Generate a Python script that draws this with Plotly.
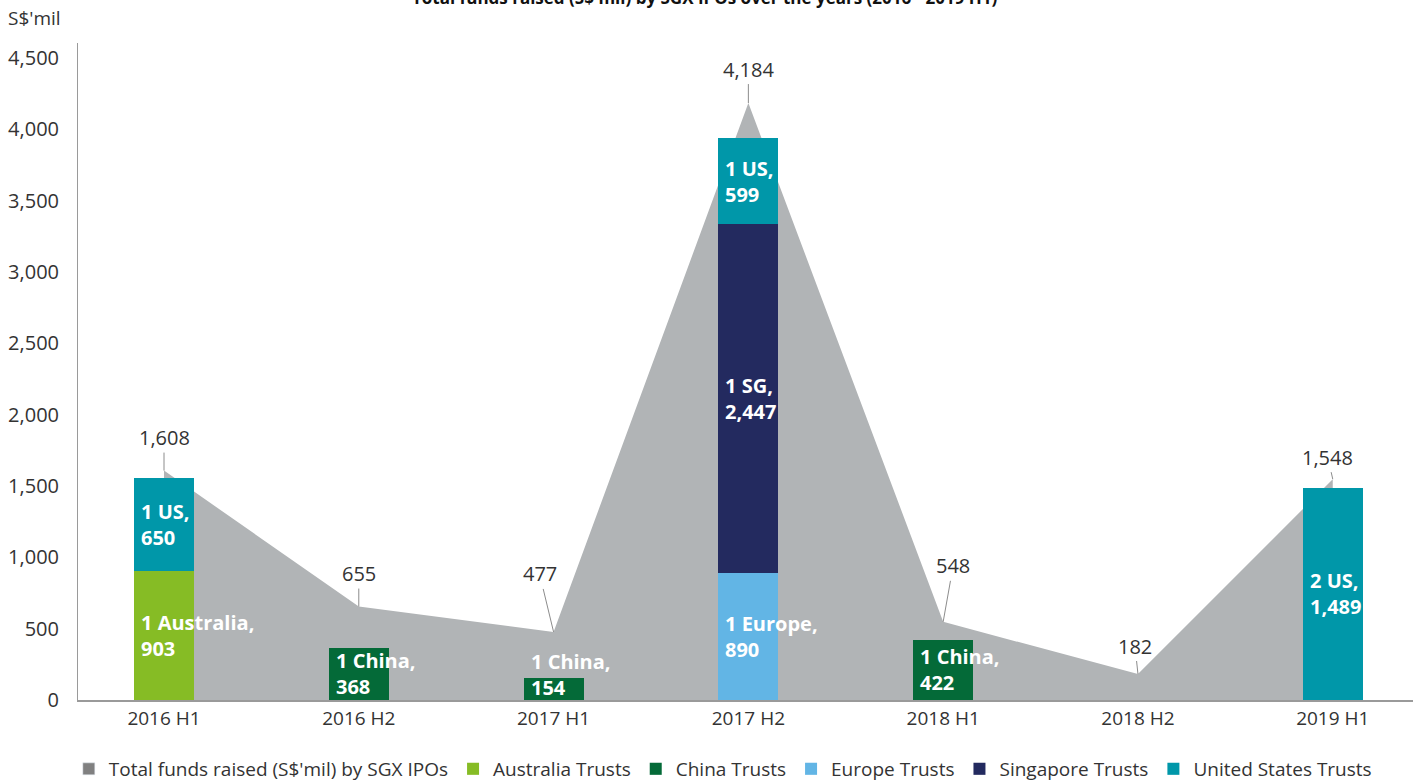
import plotly.graph_objects as go

categories = ["2016 H1", "2016 H2", "2017 H1", "2017 H2", "2018 H1", "2018 H2", "2019 H1"]
total_funds = [1608, 655, 477, 4184, 548, 182, 1548]

australia = [903, None, None, None, None, None, None]
china = [None, 368, 154, None, 422, None, None]
europe = [None, None, None, 890, None, None, None]
singapore = [None, None, None, 2447, None, None, None]
united_states = [650, None, None, 599, None, None, 1489]

# label text prefixes (number of IPOs / origin)
au_names = ["1 Australia,", None, None, None, None, None, None]
cn_names = [None, "1 China,", "1 China,", None, "1 China,", None, None]
eu_names = [None, None, None, "1 Europe,", None, None, None]
sg_names = [None, None, None, "1 SG,", None, None, None]
us_names = ["1 US,", None, None, "1 US,", None, None, "2 US,"]

FONT = "Open Sans"
C_GRAY = "#b1b4b6"
C_AU = "#86bc25"
C_CN = "#046a38"
C_EU = "#62b5e5"
C_SG = "#232a5f"
C_US = "#0097a9"

# offsets (px) of total labels relative to the point
total_offsets = [(0, -33), (0, -33), (-14, -58), (0, -34), (10, -56), (-3, -28), (-5, -22)]

fig = go.Figure()

# grey area (drawn on the base subplot, under bars)
fig.add_trace(go.Scatter(
    x=categories, y=total_funds, mode="lines", fill="tozeroy",
    fillcolor=C_GRAY, line=dict(width=0, color=C_GRAY),
    showlegend=False, hoverinfo="skip", xaxis="x", yaxis="y"))

BW = 0.308
fig.add_trace(go.Bar(x=categories, y=[None] * len(categories),
                     name="Total funds raised (S$'mil) by SGX IPOs",
                     marker_color="#808080", yaxis="y2", width=BW))
series = [
    ("Australia Trusts", australia, C_AU, au_names),
    ("China Trusts", china, C_CN, cn_names),
    ("Europe Trusts", europe, C_EU, eu_names),
    ("Singapore Trusts", singapore, C_SG, sg_names),
    ("United States Trusts", united_states, C_US, us_names),
]
for name, vals, col, _ in series:
    fig.add_trace(go.Bar(x=categories, y=vals, name=name, marker_color=col,
                         marker_line_width=0, width=BW, yaxis="y2"))

annotations = []
# bar segment labels
base = [0] * len(categories)
for name, vals, col, names in series:
    for i, v in enumerate(vals):
        if v is None:
            continue
        mid = max(base[i] + v / 2, 180)
        annotations.append(dict(
            x=i - BW / 2, y=mid, xref="x", yref="y", xanchor="left", yanchor="middle",
            xshift=5, text=f"<b>{names[i]}<br>{v:,}</b>", showarrow=False, align="left",
            font=dict(family=FONT, size=20, color="white")))
        base[i] += v

# total labels with leader lines
for i, v in enumerate(total_funds):
    ax, ay = total_offsets[i]
    annotations.append(dict(
        x=categories[i], y=v, xref="x", yref="y", text=f"{v:,}", showarrow=True,
        arrowhead=0, arrowwidth=1, arrowcolor="#8c8c8c", ax=ax, ay=ay, standoff=0,
        font=dict(family=FONT, size=20, color="#333333")))

annotations.append(dict(
    x=0.47, y=1, xref="paper", yref="paper", yanchor="middle", yshift=46,
    text="<b>Total funds raised (S$'mil) by SGX IPOs over the years (2016 - 2019 H1)</b>",
    showarrow=False, font=dict(family=FONT, size=17, color="#111111")))
annotations.append(dict(
    x=0, y=1, xref="paper", yref="paper", xanchor="left", yanchor="middle",
    xshift=-72, yshift=25, text="S$'mil", showarrow=False,
    font=dict(family=FONT, size=19, color="#333333")))

YMAX = 4605
fig.update_layout(
    width=1413, height=783,
    margin=dict(l=78, r=0, t=43, b=83, autoexpand=False),
    paper_bgcolor="white", plot_bgcolor="white",
    barmode="stack",
    font=dict(family=FONT, size=20, color="#333333"),
    xaxis=dict(type="category", categoryorder="array", categoryarray=categories,
               range=[-0.4415, 6.412], showgrid=False, showline=True,
               linecolor="#9a9a9a", linewidth=2, ticks="", zeroline=False,
               tickfont=dict(family=FONT, size=19, color="#333333")),
    yaxis=dict(range=[0, YMAX], tickvals=list(range(0, 4501, 500)), tickformat=",d",
               showgrid=False, showline=True, linecolor="#9a9a9a", linewidth=1,
               ticks="", zeroline=False, ticklabelstandoff=14,
               tickfont=dict(family=FONT, size=20, color="#333333")),
    yaxis2=dict(range=[0, YMAX], overlaying="y", visible=False),
    legend=dict(orientation="h", x=0.483, xanchor="center", y=-0.105, yanchor="middle",
                font=dict(family=FONT, size=19, color="#333333"), traceorder="normal"),
    annotations=annotations,
    showlegend=True,
)

fig.write_html("out.html")
